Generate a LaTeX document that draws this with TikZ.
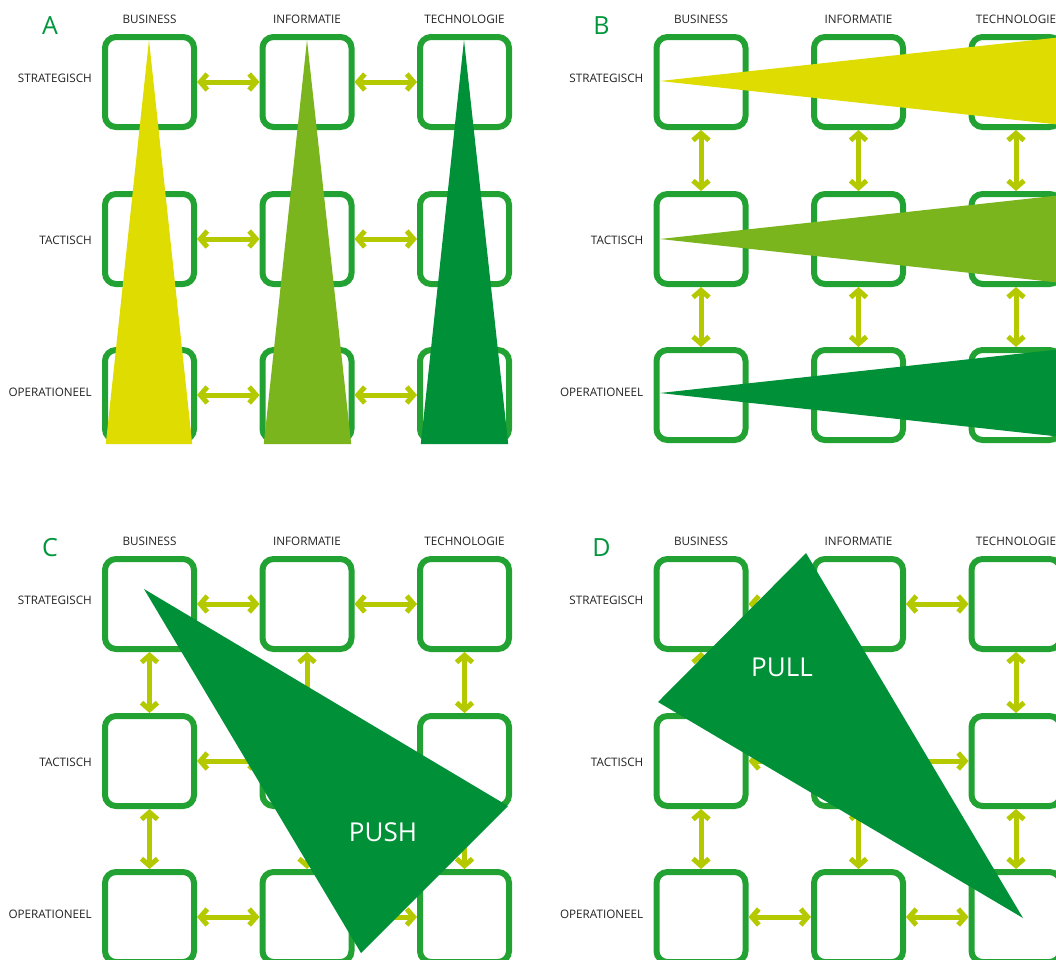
\documentclass[tikz,border=0pt]{standalone}
\usepackage{fontspec}
\setmainfont{Open Sans}
\usetikzlibrary{arrows.meta}
\definecolor{boxg}{RGB}{34,162,50}
\definecolor{arrg}{RGB}{181,201,0}
\definecolor{yel}{RGB}{222,220,0}
\definecolor{lgr}{RGB}{123,181,30}
\definecolor{dgr}{RGB}{0,144,56}
\definecolor{lett}{RGB}{0,150,60}
\definecolor{txt}{RGB}{35,35,35}
\tikzset{
 cell/.style={draw=boxg, line width=6pt, rounded corners=11pt, minimum width=89pt, minimum height=90pt, inner sep=0pt},
 link/.style={draw=arrg, line width=5pt, {Straight Barb[length=7pt,width=16pt]}-{Straight Barb[length=7pt,width=16pt]}},
 collab/.style={font=\fontsize{11.7}{13}\selectfont, text=txt, inner sep=0pt},
 rowlab/.style={collab, anchor=east},
 panlab/.style={font=\fontsize{25}{28}\selectfont, text=lett, inner sep=0pt},
 bigtext/.style={font=\fontsize{26}{30}\selectfont, text=white, inner sep=0pt}
}
\begin{document}
\begin{tikzpicture}[x=1pt,y=-1pt]
\clip (0,0) rectangle (1056,959);
\fill[white] (0,0) rectangle (1056,959);
% grids
\foreach \P/\dx/\dy in {A/0/0, B/551.5/0, C/0/522, D/551.5/522}{
 \begin{scope}[shift={(\dx,\dy)}]
  \node[panlab] (\P-let) at (50,26) {\P};
  \node[rowlab] (\P-v1) at (92,78.5) {STRATEGISCH};
  \node[rowlab] (\P-v2) at (92,240.5) {TACTISCH};
  \node[rowlab] (\P-v3) at (92,392.5) {OPERATIONEEL};
  \foreach \c/\x/\t in {1/149.5/BUSINESS,2/307/INFORMATIE,3/464.5/TECHNOLOGIE}{
    \node[collab] (\P-h\c) at (\x,19) {\t};
    \foreach \r/\y in {1/82,2/239,3/395}{
      \node[cell] (\P-\r-\c) at (\x,\y) {};
    }
  }
 \end{scope}
}
% horizontal links
\foreach \P in {A,C,D}{
 \foreach \r in {1,2,3}{
  \draw[link] (\P-\r-1) -- (\P-\r-2);
  \draw[link] (\P-\r-2) -- (\P-\r-3);
 }
}
% vertical links
\foreach \P in {B,C,D}{
 \foreach \c in {1,2,3}{
  \draw[link] (\P-1-\c) -- (\P-2-\c);
  \draw[link] (\P-2-\c) -- (\P-3-\c);
 }
}
% panel A triangles
\fill[yel] (149,40) -- (105.8,444) -- (192.2,444) -- cycle;
\fill[lgr] (307,40) -- (263.8,444) -- (351.2,444) -- cycle;
\fill[dgr] (464,40) -- (420.8,444) -- (508.2,444) -- cycle;
% panel B triangles
\begin{scope}[shift={(551.5,0)}]
\fill[yel] (108.5,81) -- (520,36) -- (520,126) -- cycle;
\fill[lgr] (108.5,239) -- (520,194) -- (520,284) -- cycle;
\fill[dgr] (108.5,393) -- (520,348) -- (520,438) -- cycle;
\end{scope}
% panel C
\begin{scope}[shift={(0,522)}]
\fill[dgr] (144,67) -- (508,284) -- (361,431) -- cycle;
\node[bigtext] (push) at (383,310) {PUSH};
\end{scope}
% panel D
\begin{scope}[shift={(551.5,522)}]
\fill[dgr] (254.5,31) -- (106.5,180) -- (471.5,396) -- cycle;
\node[bigtext] (pull) at (230.5,145) {PULL};
\end{scope}
\end{tikzpicture}
\end{document}
